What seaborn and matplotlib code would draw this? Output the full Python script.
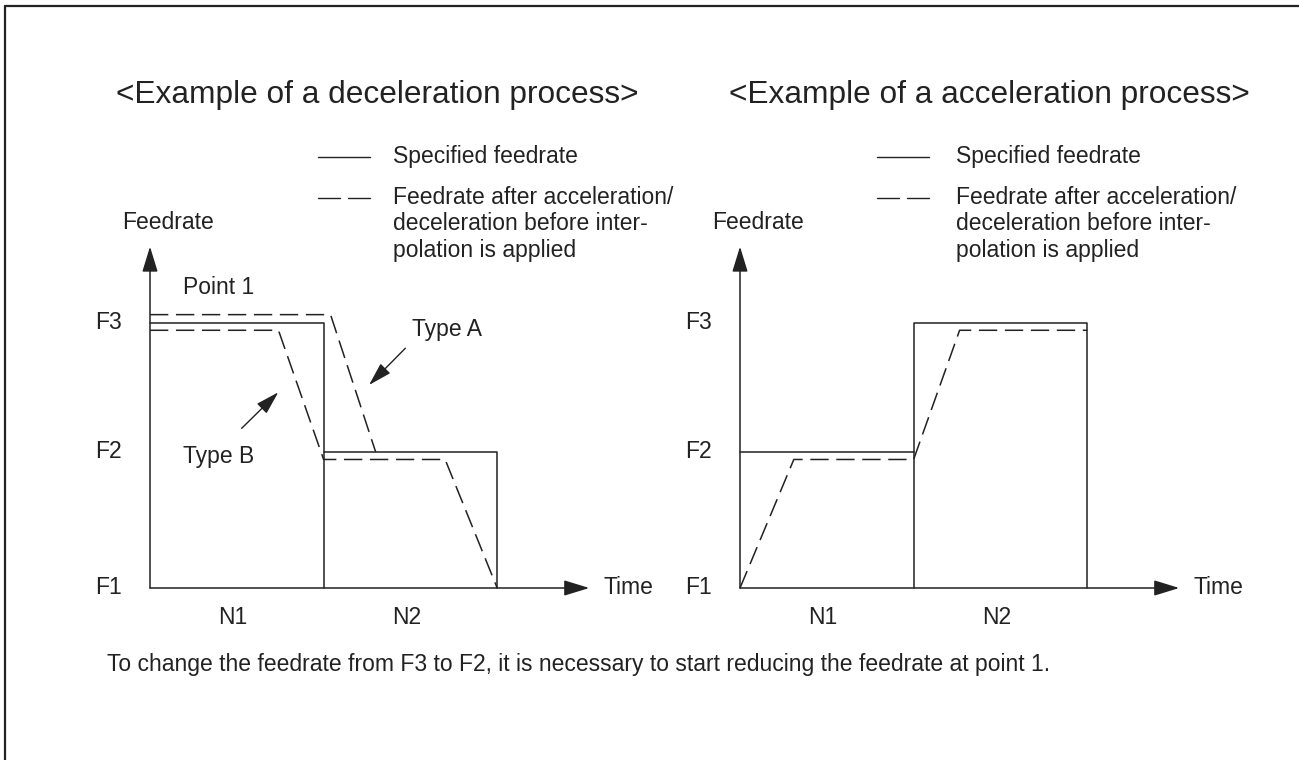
import matplotlib
matplotlib.use('Agg')
import matplotlib.pyplot as plt
import seaborn as sns

# feedrate levels (F1 = 0) and block boundaries (N1 = 0..1, N2 = 1..2)
level_labels = ['F1', 'F2', 'F3']
level_values = [0.0, 1.0, 1.95]
block_labels = ['N1', 'N2']
block_centers = [0.478, 1.478]

# deceleration example
dec_spec_t = [0, 1, 1, 2, 2]
dec_spec_f = [1.95, 1.95, 1.0, 1.0, 0.0]
dec_n1_wall_t = [1, 1]
dec_n1_wall_f = [0.0, 1.0]
dec_typeA_t = [0, 1.04, 1.30]
dec_typeA_f = [2.01, 2.01, 1.0]
dec_typeB_t = [0, 0.74, 1.0, 1.70, 2.0]
dec_typeB_f = [1.895, 1.895, 0.945, 0.945, 0.0]

# acceleration example
acc_spec_t = [0, 1, 1, 2, 2]
acc_spec_f = [1.0, 1.0, 1.95, 1.95, 0.0]
acc_n2_wall_t = [1, 1]
acc_n2_wall_f = [0.0, 1.0]
acc_after_t = [0, 0.31, 1.0, 1.265, 2.0]
acc_after_f = [0.0, 0.945, 0.945, 1.895, 1.895]

INK = '#222222'
W, H = 1299, 760
PX_X = 173.6   # pixels per time unit
PX_Y = 136.0   # pixels per feedrate unit
FS = 16.5      # body text size
HEAD = '-|>,head_length=1.3,head_width=0.4'

sns.set_theme(style='white')
plt.rcParams['font.family'] = ['Liberation Sans', 'DejaVu Sans']

fig = plt.figure(figsize=(W / 100, H / 100), dpi=100)

# background axes in pixel coordinates for frame and loose text
bg = fig.add_axes([0, 0, 1, 1])
bg.set_xlim(0, W)
bg.set_ylim(H, 0)
bg.axis('off')
bg.plot([5.5, 5.5], [H, 6], color=INK, lw=1.6)
bg.plot([5, W], [6, 6], color=INK, lw=1.6)


def panel(ox, oy, box):
    # box = (left, top, right, bottom) in pixels, origin (ox, oy) in pixels
    l, t, r, b = box
    ax = fig.add_axes([l / W, (H - b) / H, (r - l) / W, (b - t) / H])
    ax.set_xlim((l - ox) / PX_X, (r - ox) / PX_X)
    ax.set_ylim((oy - b) / PX_Y, (oy - t) / PX_Y)
    ax.axis('off')
    return ax


def line(ax, t, f, dashed=False):
    kw = dict(color=INK, lw=1.1, sort=False, estimator=None, ax=ax, legend=False)
    if dashed:
        kw['linestyle'] = (0, (12, 5))
    sns.lineplot(x=t, y=f, **kw)


def axes_frame(ax, x_end):
    ax.annotate('', xy=(0, 2.51), xytext=(0, 0),
                arrowprops=dict(arrowstyle=HEAD, color=INK, lw=1.1, shrinkA=0, shrinkB=0))
    ax.annotate('', xy=(x_end, 0), xytext=(0, 0),
                arrowprops=dict(arrowstyle=HEAD, color=INK, lw=1.1, shrinkA=0, shrinkB=0))
    for lab, v in zip(level_labels, level_values):
        ax.text(-0.16, v, lab, ha='right', va='center', fontsize=FS, color=INK)
    for lab, c in zip(block_labels, block_centers):
        ax.text(c, -0.215, lab, ha='center', va='center', fontsize=FS, color=INK)
    ax.text(-0.16, 2.69, 'Feedrate', ha='left', va='center', fontsize=FS, color=INK)
    ax.text(x_end + 0.08, 0, 'Time', ha='left', va='center', fontsize=FS, color=INK)


# ---- left: deceleration
axL = panel(150, 588, (90, 230, 660, 640))
line(axL, dec_spec_t, dec_spec_f)
line(axL, dec_n1_wall_t, dec_n1_wall_f)
line(axL, dec_typeA_t, dec_typeA_f, dashed=True)
line(axL, dec_typeB_t, dec_typeB_f, dashed=True)
axes_frame(axL, 2.53)
axL.text(0.19, 2.213, 'Point 1', ha='left', va='center', fontsize=FS, color=INK)
axL.text(1.51, 1.90, 'Type A', ha='left', va='center', fontsize=FS, color=INK)
axL.text(0.19, 0.965, 'Type B', ha='left', va='center', fontsize=FS, color=INK)
axL.annotate('', xy=(1.262, 1.493), xytext=(1.471, 1.763),
             arrowprops=dict(arrowstyle='-|>,head_length=1.2,head_width=0.35',
                             color=INK, lw=1.0, shrinkA=0, shrinkB=0))
axL.annotate('', xy=(0.739, 1.439), xytext=(0.528, 1.174),
             arrowprops=dict(arrowstyle='-|>,head_length=1.2,head_width=0.35',
                             color=INK, lw=1.0, shrinkA=0, shrinkB=0))

# ---- right: acceleration
axR = panel(740, 588, (680, 230, 1250, 640))
line(axR, acc_spec_t, acc_spec_f)
line(axR, acc_n2_wall_t, acc_n2_wall_f)
line(axR, acc_after_t, acc_after_f, dashed=True)
axes_frame(axR, 2.53)

# ---- titles, legends, footnote
bg.text(116, 95, '<Example of a deceleration process>', ha='left', va='center',
        fontsize=22.8, color=INK)
bg.text(729, 95, '<Example of a acceleration process>', ha='left', va='center',
        fontsize=22.8, color=INK)

legend_solid = 'Specified feedrate'
legend_dashed = ['Feedrate after acceleration/', 'deceleration before inter-',
                 'polation is applied']
for sx, tx in [(318, 393), (877, 956)]:
    bg.plot([sx, sx + 52], [157, 157], color=INK, lw=1.0)
    bg.plot([sx, sx + 22], [198, 198], color=INK, lw=1.0)
    bg.plot([sx + 30, sx + 52], [198, 198], color=INK, lw=1.0)
    bg.text(tx, 157, legend_solid, ha='left', va='center', fontsize=FS, color=INK)
    for i, s in enumerate(legend_dashed):
        bg.text(tx, 197 + 26.5 * i, s, ha='left', va='center', fontsize=FS, color=INK)

bg.text(107, 665, 'To change the feedrate from F3 to F2, it is necessary to start '
        'reducing the feedrate at point 1.', ha='left', va='center', fontsize=FS,
        color=INK)

fig.savefig('out.png', dpi=100)
